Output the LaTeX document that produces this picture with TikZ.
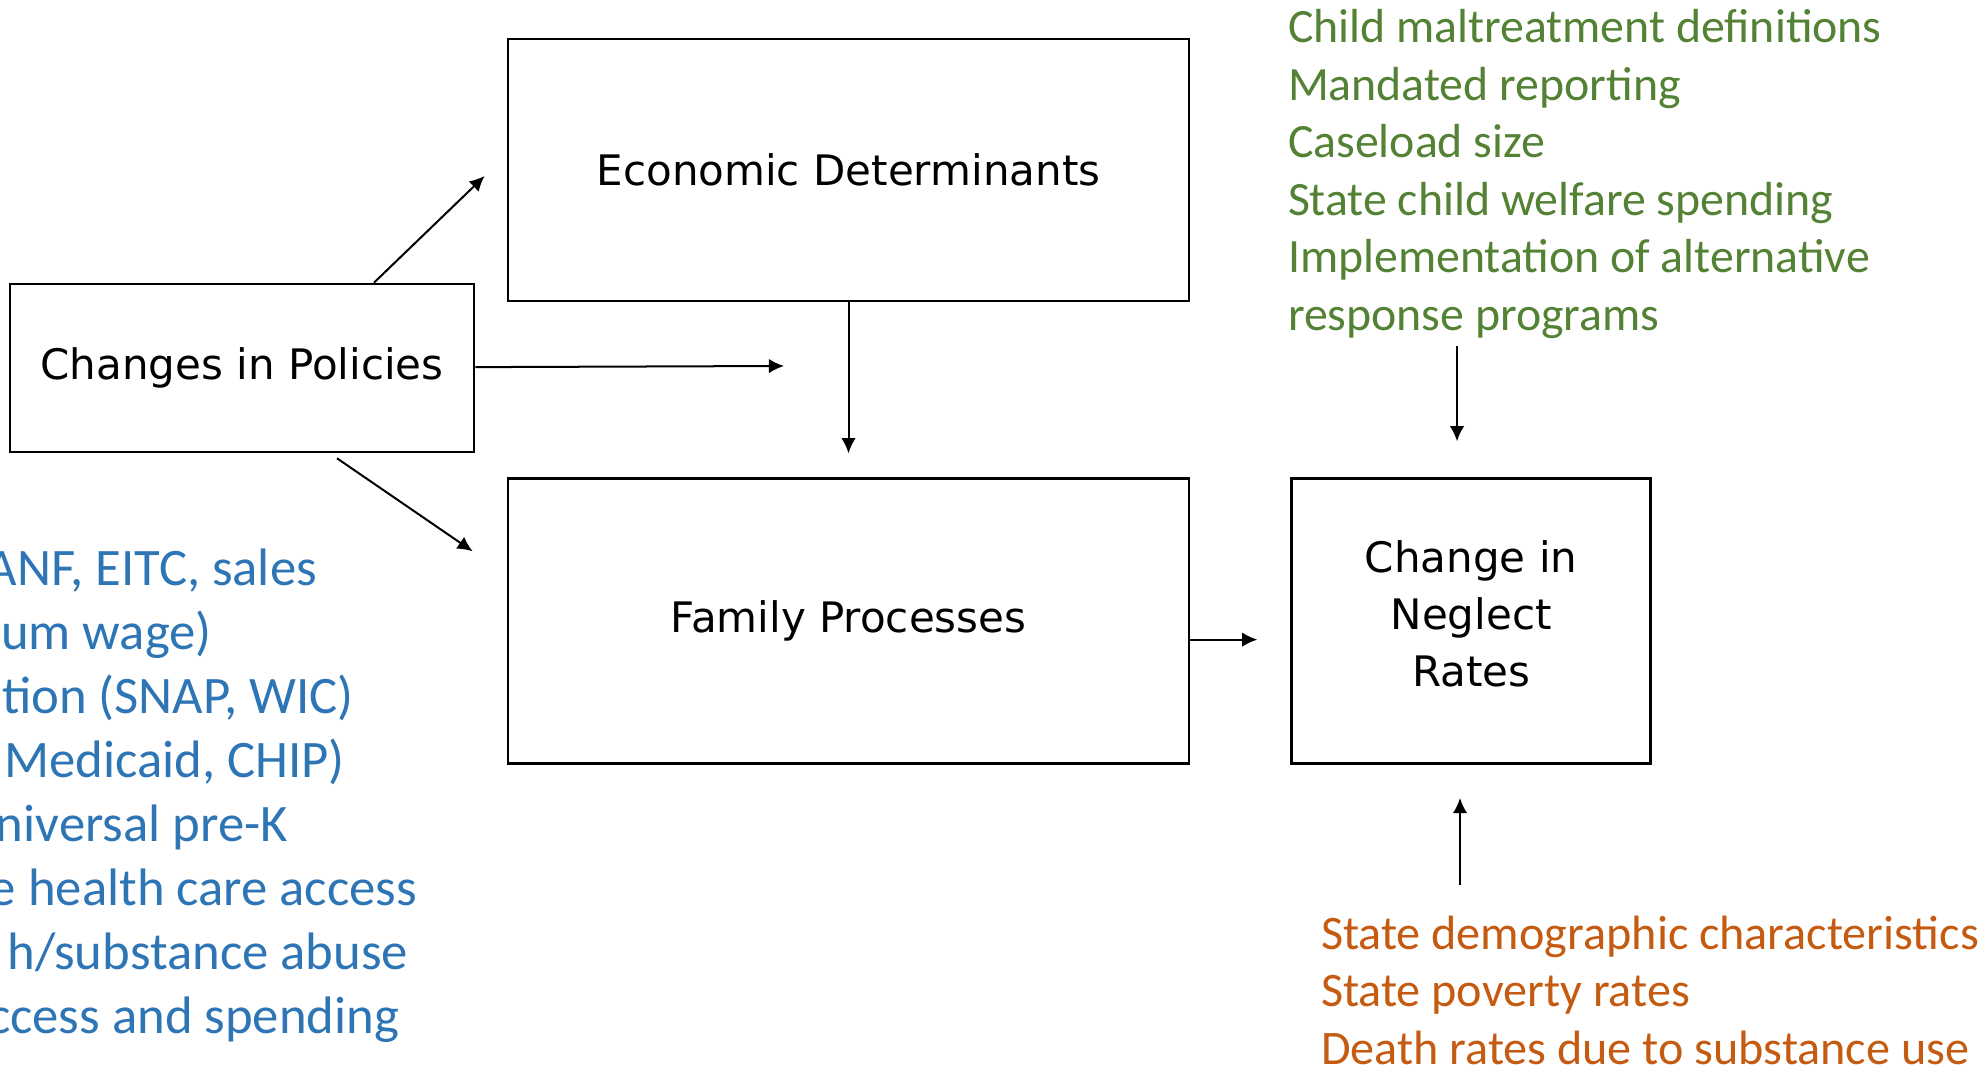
\documentclass[tikz,border=0pt]{standalone}
\usepackage{fontspec}
\setmainfont{DejaVu Sans}
\newfontfamily\listfont{Carlito}
\usepackage{tikz}
\usetikzlibrary{shapes,arrows.meta,positioning}
\definecolor{polblue}{HTML}{2E75B6}
\definecolor{sysgreen}{HTML}{548235}
\definecolor{ctxorange}{HTML}{C55A11}
\tikzstyle{block} = [draw, rectangle, line width=0.75pt, minimum height=2.62cm, minimum width=6.81cm, align=center, font=\fontsize{11.95}{16.2}\selectfont]
\tikzstyle{greenline} = [anchor=base west, inner sep=0pt, text=sysgreen, font=\listfont\fontsize{13.6}{16}\selectfont]
\tikzstyle{orangeline} = [anchor=base west, inner sep=0pt, text=ctxorange, font=\listfont\fontsize{13.7}{16}\selectfont]
\tikzstyle{blueline} = [anchor=base east, inner sep=0pt, text=polblue, font=\listfont\fontsize{15}{18}\selectfont]
\tikzstyle{tail} = [coordinate]

\begin{document}
\begin{tikzpicture}[auto, node distance=1.75cm, >={Latex[length=4.3pt,width=4.1pt]}, line width=0.57pt]
    \useasboundingbox (0,0) rectangle (19.86,10.68);
    \fill [white] (0,0) rectangle (19.86,10.68);

    % We start by placing the blocks
    \node [block] (econ) at (8.485,8.98) {Economic Determinants};
    \node [block, below=of econ, minimum height=2.85cm] (family) {Family Processes};
    \node [block, right=1.0cm of family, minimum width=3.59cm, minimum height=2.85cm, text depth=0.16cm] (neglect) {Change in\\Neglect\\Rates};
    \node [block, minimum width=4.64cm, minimum height=1.68cm] (policy) at (2.42,7.00) {Changes in Policies};

    % State child welfare system
    \node [greenline] (green1) at (12.87,10.25) {Child maltreatment definitions};
    \node [greenline] (green2) at (12.87,9.675) {Mandated reporting};
    \node [greenline] (green3) at (12.87,9.10) {Caseload size};
    \node [greenline] (green4) at (12.87,8.525) {State child welfare spending};
    \node [greenline] (green5) at (12.87,7.95) {Implementation of alternative};
    \node [greenline] (green6) at (12.87,7.375) {response programs};

    % State context
    \node [orangeline] (orange1) at (13.20,1.185) {State demographic characteristics};
    \node [orangeline] (orange2) at (13.20,0.615) {State poverty rates};
    \node [orangeline] (orange3) at (13.20,0.035) {Death rates due to substance use};

    % Policy list, cut at the left edge
    \node [blueline] (blue1) at (3.179,4.82) {ANF, EITC, sales};
    \node [blueline] (blue2) at (2.128,4.181) {um wage)};
    \node [blueline] (blue3) at (3.546,3.542) {tion (SNAP, WIC)};
    \node [blueline] (blue4) at (3.457,2.903) {Medicaid, CHIP)};
    \node [blueline] (blue5) at (2.888,2.264) {niversal pre-K};
    \node [blueline] (blue6) at (4.179,1.625) {e health care access};
    \node [blueline] (blue7) at (4.091,0.986) {h/substance abuse};
    \node [blueline] (blue8) at (4.002,0.347) {ccess and spending};

    \coordinate [tail] (mid) at (7.84,7.02);
    \coordinate [tail] (gtail) at (14.57,7.22);
    \coordinate [tail] (otail) at (14.60,1.83);

    % Once the nodes are placed, connecting them is easy.
    \draw [draw,->] ([xshift=1.32cm]policy.north) -- ([xshift=-0.22cm,yshift=-0.06cm]econ.west);
    \draw [draw,->] (policy) -- (mid);
    \draw [draw,->] ([xshift=0.95cm,yshift=-0.05cm]policy.south) -- ([xshift=-0.34cm,yshift=-0.74cm]family.north west);
    \draw [draw,->, shorten >=0.24cm] (econ) -- (family);
    \draw [draw,->, shorten >=0.33cm] ([yshift=-0.185cm]family.east) -- ([yshift=-0.185cm]neglect.west);
    \draw [draw,->, shorten >=0.36cm] (gtail) -- (gtail |- neglect.north);
    \draw [draw,->, shorten >=0.33cm] (otail) -- (otail |- neglect.south);
\end{tikzpicture}
\end{document}
